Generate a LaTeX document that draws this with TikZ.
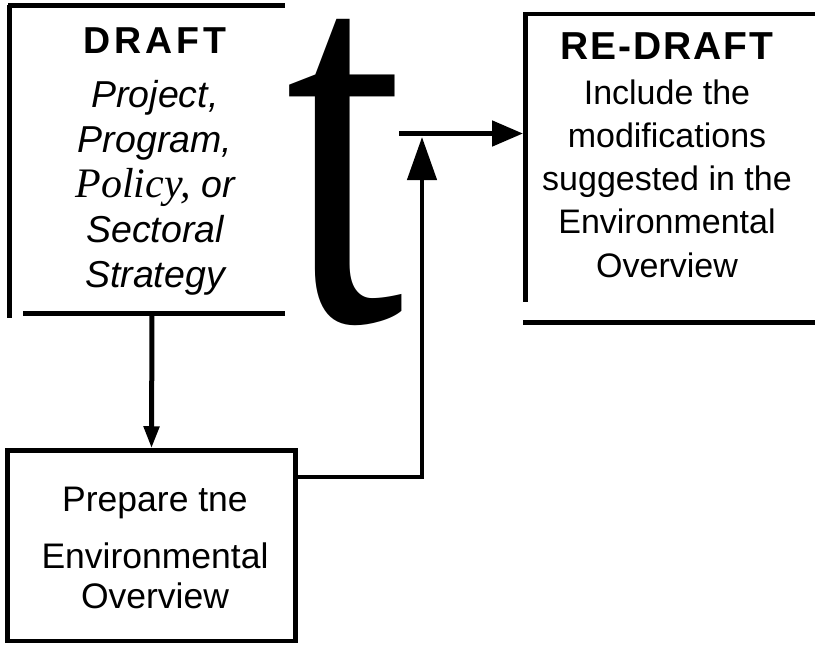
\documentclass[tikz,border=0pt]{standalone}
\usepackage{fontspec}
\setmainfont{Liberation Sans}
\newfontfamily\serifft{Liberation Serif}
\usetikzlibrary{arrows.meta}
\begin{document}
\begin{tikzpicture}[x=1pt,y=-1pt,
  edge/.style={line width=4.5pt},
  conn/.style={line width=5pt},
  boxtext/.style={inner sep=0pt, align=center, anchor=north}]
\useasboundingbox (0,0) rectangle (815,646);

% DRAFT (open box)
\draw[edge] (9.5,5) -- (9.5,318);
\draw[edge] (8,5.5) -- (285,5.5);
\draw[edge, line width=5pt] (23,313) -- (285,313);
\node[boxtext, font=\fontsize{37.5pt}{45pt}\selectfont] (draft) at (155,27)
  {{\bfseries\addfontfeature{LetterSpace=10}DRAFT}\\[9pt]
   \itshape Project,\\
   \itshape Program,\\
   {\serifft\itshape\fontsize{42pt}{45pt}\selectfont Policy,} \itshape or\\
   \itshape Sectoral\\
   \itshape Strategy};

% big letter
\node[anchor=base west, inner sep=0pt] (bigt) at (285,320)
  {\scalebox{0.8}[1]{\serifft\fontsize{535pt}{535pt}\selectfont t}};

% RE-DRAFT (open box)
\coordinate (rdleft) at (523,133.5);
\draw[edge] (525.5,14) -- (525.5,302);
\draw[edge] (523,14) -- (815,14);
\draw[edge] (523,322.5) -- (815,322.5);
\node[boxtext, font=\fontsize{34pt}{43.3pt}\selectfont] (redraft) at (667,32)
  {{\bfseries\fontsize{39pt}{45pt}\selectfont\addfontfeature{LetterSpace=5}RE-DRAFT}\\[1.7pt]
   Include the\\
   modifications\\
   suggested in the\\
   Environmental\\
   Overview};

% Prepare box
\node[draw, line width=4.5pt, minimum width=288pt, minimum height=190.5pt,
      inner sep=0pt] (prep) at (151.5,545.75) {};
\node[boxtext, font=\fontsize{35.5pt}{40pt}\selectfont] (preptext) at (155,487)
  {Prepare tne\\[17pt]
   Environmental\\
   Overview};

% connectors
\coordinate (dstart) at (152,313);
\draw[conn, -{Triangle[length=22pt,width=15pt]}] (dstart) -- (prep.north);

\coordinate (pe) at (prep.east |- 0,477);
\coordinate (jn) at (422,137);
\draw[line width=4.5pt, -{Triangle[length=43pt,width=29pt]}] (pe) -- (pe -| jn) -- (jn);

\coordinate (hstart) at (399,133.5);
\draw[conn, -{Triangle[length=31pt,width=25pt]}] (hstart) -- (rdleft);
\end{tikzpicture}
\end{document}
